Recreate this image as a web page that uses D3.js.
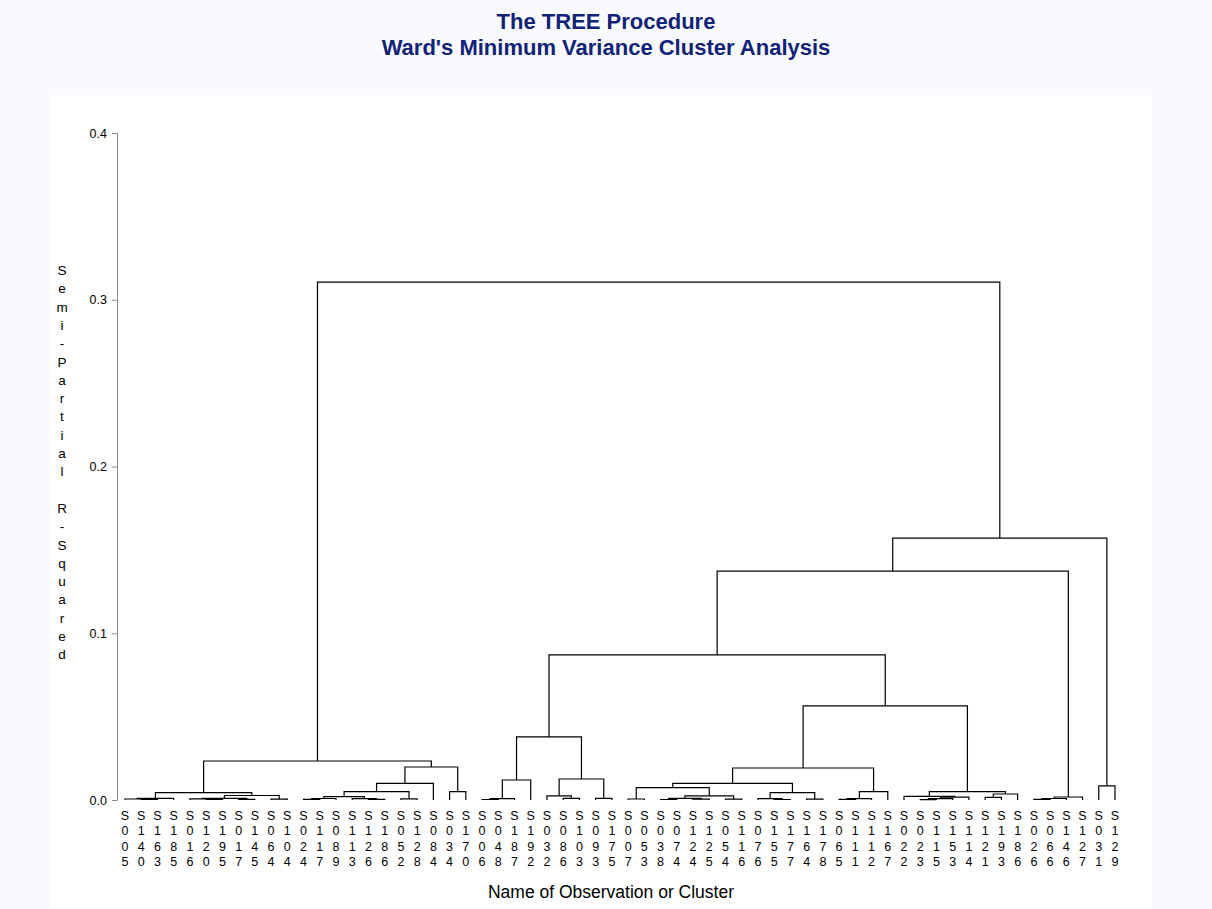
<!DOCTYPE html>
<html>
<head>
<meta charset="utf-8">
<script src="https://cdn.jsdelivr.net/npm/d3@7/dist/d3.min.js"></script>
<style>
  html, body { margin: 0; padding: 0; background: #f9fafd; }
  svg { display: block; }
  text { font-family: "Liberation Sans", Arial, sans-serif; }
</style>
</head>
<body>
<svg id="chart" width="1212" height="909"></svg>
<script>
// ---- data ----
const titleLines = ["The TREE Procedure", "Ward's Minimum Variance Cluster Analysis"];
const yAxisTitle = "Semi-Partial R-Squared";
const xAxisTitle = "Name of Observation or Cluster";
const yTicks = [0.0, 0.1, 0.2, 0.3, 0.4];

const leaves = ["S005","S140","S163","S185","S016","S120","S195","S017","S145","S064","S104",
  "S024","S117","S089","S113","S126","S186","S052","S128","S084","S034","S170",
  "S006","S048","S187","S192","S032","S086","S103","S093","S175",
  "S007","S053","S038","S074","S124","S125","S054","S116","S076","S155","S177","S164","S178","S065","S111","S112","S167",
  "S022","S023","S115","S153","S114","S121","S193","S186","S026","S066","S146","S127","S031","S129"];

// merges: [id, child A, child B, semi-partial R-squared]; numeric child = leaf index
const merges = [
  ["a", 1, 2, 0.0003], ["b", 0, "a", 0.0006], ["c", "b", 3, 0.0010],
  ["d", 5, 6, 0.0003], ["e", 4, "d", 0.0007], ["f", 7, 8, 0.0004], ["g", "e", "f", 0.0010],
  ["h", 9, 10, 0.0005], ["i", "g", "h", 0.0027], ["j", "c", "i", 0.0044],
  ["k", 11, 12, 0.0004], ["l", "k", 13, 0.0009], ["m", 15, 16, 0.0004], ["n", 14, "m", 0.0008],
  ["o", "l", "n", 0.0020], ["p", 17, 18, 0.0007], ["q", "o", "p", 0.0050], ["r", "q", 19, 0.0100],
  ["s", 20, 21, 0.0050], ["t", "r", "s", 0.0198], ["u", "j", "t", 0.0234],
  ["v", 22, 23, 0.0003], ["w", "v", 24, 0.0008], ["x", "w", 25, 0.0120],
  ["y", 27, 28, 0.0010], ["z", 26, "y", 0.0025], ["aa", 29, 30, 0.0010], ["ab", "z", "aa", 0.0126],
  ["ac", "x", "ab", 0.0378],
  ["ad", 31, 32, 0.0006], ["ae", 33, 34, 0.0003], ["af", 35, 36, 0.0005], ["ag", "ae", "af", 0.0010],
  ["ah", 37, 38, 0.0005], ["ai", "ag", "ah", 0.0025], ["aj", "ad", "ai", 0.0074],
  ["ak", 40, 41, 0.0003], ["al", 39, "ak", 0.0008], ["am", 42, 43, 0.0005], ["an", "al", "am", 0.0044],
  ["ao", "aj", "an", 0.0100], ["ap", 44, 45, 0.0004], ["aq", "ap", 46, 0.0008], ["ar", "aq", 47, 0.0050],
  ["as", "ao", "ar", 0.0192],
  ["at", 49, 50, 0.0002], ["au", "at", 51, 0.0008], ["av", "au", 52, 0.0017], ["aw", 48, "av", 0.0022],
  ["ax", 53, 54, 0.0016], ["ay", "ax", 55, 0.0036], ["az", "aw", "ay", 0.0050],
  ["ba", "as", "az", 0.0564], ["bb", "ac", "ba", 0.0870],
  ["bc", 56, 57, 0.0004], ["bd", "bc", 58, 0.0009], ["be", "bd", 59, 0.0018],
  ["bf", "bb", "be", 0.1373], ["bg", 60, 61, 0.0085], ["bh", "bf", "bg", 0.1571],
  ["root", "u", "bh", 0.3106]
];

// ---- drawing ----
const svg = d3.select("#chart");
const W = 1212, H = 909;
const navy = "#112277";

// plot panel
svg.append("rect").attr("x", 50).attr("y", 95).attr("width", 1102).attr("height", H - 95)
  .attr("fill", "#ffffff");

// titles
svg.selectAll("text.title").data(titleLines).join("text")
  .attr("class", "title")
  .attr("x", 606).attr("y", (d, i) => 29 + i * 26)
  .attr("text-anchor", "middle")
  .attr("font-size", 22).attr("font-weight", "bold")
  .attr("fill", navy)
  .text(d => d);

const x = d3.scalePoint().domain(d3.range(leaves.length)).range([125, 1115]);
const y = d3.scaleLinear().domain([0, 0.4]).range([800, 133]);

// y axis
const yAxis = d3.axisLeft(y).tickValues(yTicks).tickFormat(d3.format(".1f")).tickSize(5).tickPadding(5);
const gy = svg.append("g").attr("transform", "translate(117,0)").call(yAxis);
gy.select(".domain").attr("stroke", "#8a8a8a");
gy.selectAll(".tick line").attr("stroke", "#8a8a8a");
gy.selectAll(".tick text").attr("font-size", 12.5).attr("fill", "#000")
  .attr("font-family", "'Liberation Sans', Arial, sans-serif");

// y axis title, stacked characters
const yt = svg.append("text").attr("font-size", 13.5).attr("fill", "#000").attr("text-anchor", "middle");
yAxisTitle.split("").forEach((ch, i) => {
  yt.append("tspan").attr("x", 62).attr("y", 275 + i * 18.3).text(ch === " " ? "\u00a0" : ch);
});

// tree
const nodes = {};
const getNode = c => typeof c === "number" ? { x: x(c), h: 0 } : nodes[c];
const g = svg.append("g").attr("fill", "none").attr("stroke", "#000").attr("stroke-width", 1.2);
merges.forEach(([id, a, b, h]) => {
  const na = getNode(a), nb = getNode(b);
  nodes[id] = { x: (na.x + nb.x) / 2, h: h };
  g.append("path")
    .attr("d", `M${na.x},${y(na.h)}V${y(h)}H${nb.x}V${y(nb.h)}`);
});

// leaf labels
const lg = svg.append("g").attr("font-size", 12.5).attr("fill", "#000").attr("text-anchor", "middle");
leaves.forEach((name, i) => {
  const t = lg.append("text");
  name.split("").forEach((ch, k) => {
    t.append("tspan").attr("x", x(i)).attr("y", 820 + k * 15.4).text(ch);
  });
});

// x axis title
svg.append("text").attr("x", 611).attr("y", 898).attr("text-anchor", "middle")
  .attr("font-size", 17.5).attr("fill", "#000").text(xAxisTitle);
</script>
</body>
</html>
